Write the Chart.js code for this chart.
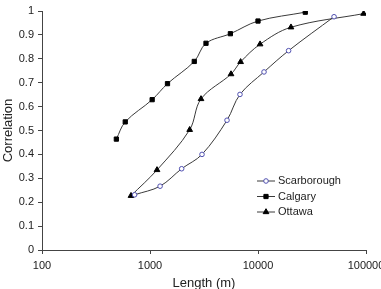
<!DOCTYPE html>
<html><head><meta charset="utf-8">
<script src="https://cdn.jsdelivr.net/npm/chart.js@4/dist/chart.umd.min.js"></script>
<style>html,body{margin:0;padding:0;background:#fff;}#wrap{width:381px;height:289px;position:relative;}</style>
</head><body>
<div id="wrap"><canvas id="c" width="381" height="289"></canvas></div>
<script>
// Data (x = length in m, y = correlation)
const scarboroughX = [720, 1240, 1964, 3030, 5165, 6810, 11370, 19200, 50600];
const scarboroughY = [0.231, 0.267, 0.340, 0.400, 0.543, 0.651, 0.745, 0.834, 0.976];
const calgaryX = [488, 590, 1047, 1452, 2570, 3300, 5550, 10000, 27400];
const calgaryY = [0.464, 0.536, 0.629, 0.696, 0.789, 0.865, 0.905, 0.958, 0.995];
const ottawaX = [667, 1161, 2330, 2966, 5625, 6900, 10450, 20200, 95000];
const ottawaY = [0.227, 0.335, 0.503, 0.632, 0.736, 0.787, 0.861, 0.932, 0.989];
const xTicks = [100, 1000, 10000, 100000];
const yTicks = [0, 0.1, 0.2, 0.3, 0.4, 0.5, 0.6, 0.7, 0.8, 0.9, 1];
const seriesNames = ['Scarborough', 'Calgary', 'Ottawa'];

const pts = (xs, ys) => xs.map((x, i) => ({x: x, y: ys[i]}));
const FONT = 'Arial, "Liberation Sans", sans-serif';

const legendPlugin = {
  id: 'customLegend',
  afterDraw(chart) {
    const ctx = chart.ctx;
    const ca = chart.chartArea;
    const x0 = ca.left + 215, y0 = ca.top + 170, row = 15.5;
    ctx.save();
    chart.data.datasets.forEach((ds, i) => {
      const y = y0 + i * row;
      ctx.strokeStyle = ds.borderColor;
      ctx.lineWidth = 1;
      ctx.beginPath(); ctx.moveTo(x0, y); ctx.lineTo(x0 + 18, y); ctx.stroke();
      ctx.fillStyle = ds.pointBackgroundColor;
      ctx.strokeStyle = ds.pointBorderColor;
      ctx.lineWidth = ds.pointBorderWidth;
      Chart.helpers.drawPoint(ctx, {pointStyle: ds.pointStyle, radius: ds.pointRadius, borderWidth: ds.pointBorderWidth}, x0 + 9, y);
      ctx.fillStyle = '#222';
      ctx.font = '11px ' + FONT;
      ctx.textBaseline = 'middle';
      ctx.textAlign = 'left';
      ctx.fillText(ds.label, x0 + 21, y);
    });
    ctx.restore();
  }
};

new Chart(document.getElementById('c'), {
  type: 'line',
  data: {
    datasets: [
      {label: seriesNames[0], data: pts(scarboroughX, scarboroughY), borderColor: '#3a3a3a', borderWidth: 1,
       pointStyle: 'circle', pointRadius: 2.3, pointBorderWidth: 1, pointBackgroundColor: '#ffffff', pointBorderColor: '#5050b0', tension: 0.35, fill: false},
      {label: seriesNames[1], data: pts(calgaryX, calgaryY), borderColor: '#3a3a3a', borderWidth: 1,
       pointStyle: 'rect', pointRadius: 3, pointBorderWidth: 1, pointBackgroundColor: '#000', pointBorderColor: '#000', tension: 0.35, fill: false},
      {label: seriesNames[2], data: pts(ottawaX, ottawaY), borderColor: '#3a3a3a', borderWidth: 1,
       pointStyle: 'triangle', pointRadius: 3.3, pointBorderWidth: 1, pointBackgroundColor: '#000', pointBorderColor: '#000', tension: 0.35, fill: false}
    ]
  },
  options: {
    responsive: false,
    animation: false,
    devicePixelRatio: 1,
    layout: {padding: {top: 11, right: 15, left: 0, bottom: 0}},
    plugins: {legend: {display: false}, tooltip: {enabled: false}},
    scales: {
      x: {
        type: 'logarithmic', min: 100, max: 100000,
        afterBuildTicks: s => { s.ticks = xTicks.map(v => ({value: v})); },
        afterFit: s => { s.height = 39; s.paddingLeft = 0; s.paddingRight = 0; },
        ticks: {autoSkip: false, maxRotation: 0, padding: 5, color: '#222', font: {family: FONT, size: 11},
                callback: v => String(v)},
        grid: {drawOnChartArea: false, tickLength: 4, color: '#444'},
        border: {color: '#444', width: 1},
        title: {display: true, text: 'Length (m)', color: '#222', font: {family: FONT, size: 13}, padding: {top: 0, bottom: -2}}
      },
      y: {
        min: 0, max: 1,
        afterBuildTicks: s => { s.ticks = yTicks.map(v => ({value: v})); },
        afterFit: s => { s.width = 42; },
        ticks: {padding: 4, color: '#222', font: {family: FONT, size: 11}, callback: v => String(Math.round(v * 10) / 10)},
        grid: {drawOnChartArea: false, tickLength: 4, color: '#444'},
        border: {color: '#444', width: 1},
        title: {display: true, text: 'Correlation', color: '#222', font: {family: FONT, size: 13}, padding: {top: 1, bottom: 0}}
      }
    }
  },
  plugins: [legendPlugin]
});
</script>
</body></html>
